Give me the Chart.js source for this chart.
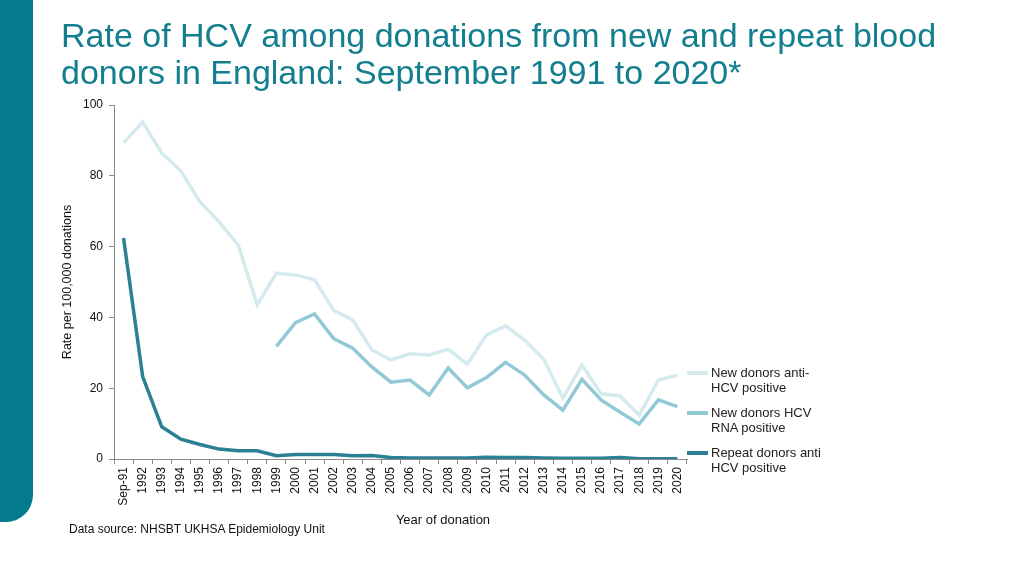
<!DOCTYPE html>
<html>
<head>
<meta charset="utf-8">
<script src="https://cdn.jsdelivr.net/npm/chart.js@4.4.0/dist/chart.umd.min.js"></script>
<style>
  body { margin: 0; background: #fff; font-family: "Liberation Sans", Arial, sans-serif; }
  #wrap { position: relative; width: 1024px; height: 576px; overflow: hidden; }
  #bar { position: absolute; left: 0; top: 0; width: 33px; height: 522px; background: #037b8c; border-bottom-right-radius: 27px; }
  #title { position: absolute; left: 61px; top: 17px; font-size: 34px; line-height: 37px; color: #127e8e; white-space: nowrap; }
  #source { position: absolute; left: 69px; top: 521px; font-size: 12px; line-height: 16px; color: #111; }
  #xtitle { position: absolute; left: 343px; width: 200px; text-align: center; top: 512px; font-size: 13px; line-height: 16px; color: #111; }
  #legend { position: absolute; left: 687px; top: 366px; font-size: 13px; line-height: 14.5px; color: #222; }
  .item { position: relative; padding-left: 24px; height: 29px; margin-bottom: 11px; white-space: nowrap; }
  .swatch { position: absolute; left: 0; top: 5px; width: 21px; height: 4px; }
  canvas { position: absolute; left: 0; top: 0; }
</style>
</head>
<body>
<div id="wrap">
  <div id="bar"></div>
  <canvas id="chart" width="1024" height="576"></canvas>
  <div id="title">Rate of HCV among donations from new and repeat blood<br>donors in England: September 1991 to 2020*</div>
  <div id="legend"></div>
  <div id="xtitle">Year of donation</div>
  <div id="source">Data source: NHSBT UKHSA Epidemiology Unit</div>
</div>
<script>
'use strict';

// categories and series
var years = ['Sep-91', '1992', '1993', '1994', '1995', '1996', '1997', '1998', '1999', '2000',
    '2001', '2002', '2003', '2004', '2005', '2006', '2007', '2008', '2009', '2010',
    '2011', '2012', '2013', '2014', '2015', '2016', '2017', '2018', '2019', '2020'];

var newAntiHcv = [89.3, 95.2, 86.4, 81.4, 72.6, 67.0, 60.5, 43.5, 52.5, 52.0,
    50.6, 42.0, 39.3, 30.8, 28.0, 29.7, 29.4, 31.0, 26.8, 35.0,
    37.6, 33.6, 28.2, 17.2, 26.6, 18.4, 17.8, 12.4, 22.3, 23.7];

var newRna = [null, null, null, null, null, null, null, null, 31.8, 38.5,
    41.0, 34.0, 31.3, 26.0, 21.7, 22.3, 18.1, 25.7, 20.1, 23.0,
    27.3, 23.7, 18.1, 13.8, 22.5, 16.7, 13.2, 9.9, 16.7, 14.8];

var repeatAntiHcv = [62.4, 23.3, 9.1, 5.6, 4.1, 2.8, 2.3, 2.3, 0.9, 1.3,
    1.3, 1.3, 0.9, 1.0, 0.4, 0.3, 0.3, 0.3, 0.3, 0.5,
    0.4, 0.4, 0.3, 0.2, 0.2, 0.2, 0.4, 0.1, 0.1, 0.1];

var yTicks = [0, 20, 40, 60, 80, 100];

var legendNames = [['New donors anti-', 'HCV positive'], ['New donors HCV', 'RNA positive'], ['Repeat donors anti', 'HCV positive']];
var colours = ['#d4ebee', '#93c9d7', '#2c8095'];

var axisGrey = '#8a8a8a';
var font = { family: '"Liberation Sans", Arial, sans-serif', size: 12 };

function line(label, data, colour) {
    return {
        label: label,
        data: data,
        borderColor: colour,
        backgroundColor: colour,
        borderWidth: 3.5,
        pointRadius: 0,
        tension: 0,
        fill: false,
        spanGaps: false
    };
}

var chart = new Chart(document.getElementById('chart'), {
    type: 'line',
    data: {
        labels: years,
        datasets: [
            line(legendNames[0].join(''), newAntiHcv, colours[0]),
            line(legendNames[1].join(' '), newRna, colours[1]),
            line(legendNames[2].join(' '), repeatAntiHcv, colours[2])
        ]
    },
    options: {
        responsive: false,
        animation: false,
        layout: { padding: { left: 56, right: 337, top: 105, bottom: 45 } },
        plugins: { legend: { display: false }, tooltip: { enabled: false } },
        scales: {
            x: {
                offset: true,
                border: { color: axisGrey, width: 1 },
                grid: { display: true, drawOnChartArea: false, drawTicks: true, tickLength: 5, color: axisGrey, offset: true },
                ticks: { autoSkip: false, maxRotation: 90, minRotation: 90, color: '#111', font: font, padding: 3 },
                afterFit: function (scale) { scale.height = 72; }
            },
            y: {
                min: 0,
                max: 100,
                afterBuildTicks: function (scale) { scale.ticks = yTicks.map(function (v) { return { value: v }; }); },
                border: { color: axisGrey, width: 1 },
                grid: { display: true, drawOnChartArea: false, drawTicks: true, tickLength: 5, color: axisGrey },
                ticks: { color: '#111', font: font, padding: 6 },
                title: { display: true, text: 'Rate per 100,000 donations', color: '#111', font: { family: font.family, size: 12.5 } },
                afterFit: function (scale) { scale.width = 58; }
            }
        }
    }
});

// legend with two-line labels, as in the original
var legendEl = document.getElementById('legend');
legendNames.forEach(function (name, i) {
    var item = document.createElement('div');
    item.className = 'item';
    item.innerHTML = '<span class="swatch" style="background:' + colours[i] + '"></span>' + name.join('<br>');
    legendEl.appendChild(item);
});
</script>
</body>
</html>
